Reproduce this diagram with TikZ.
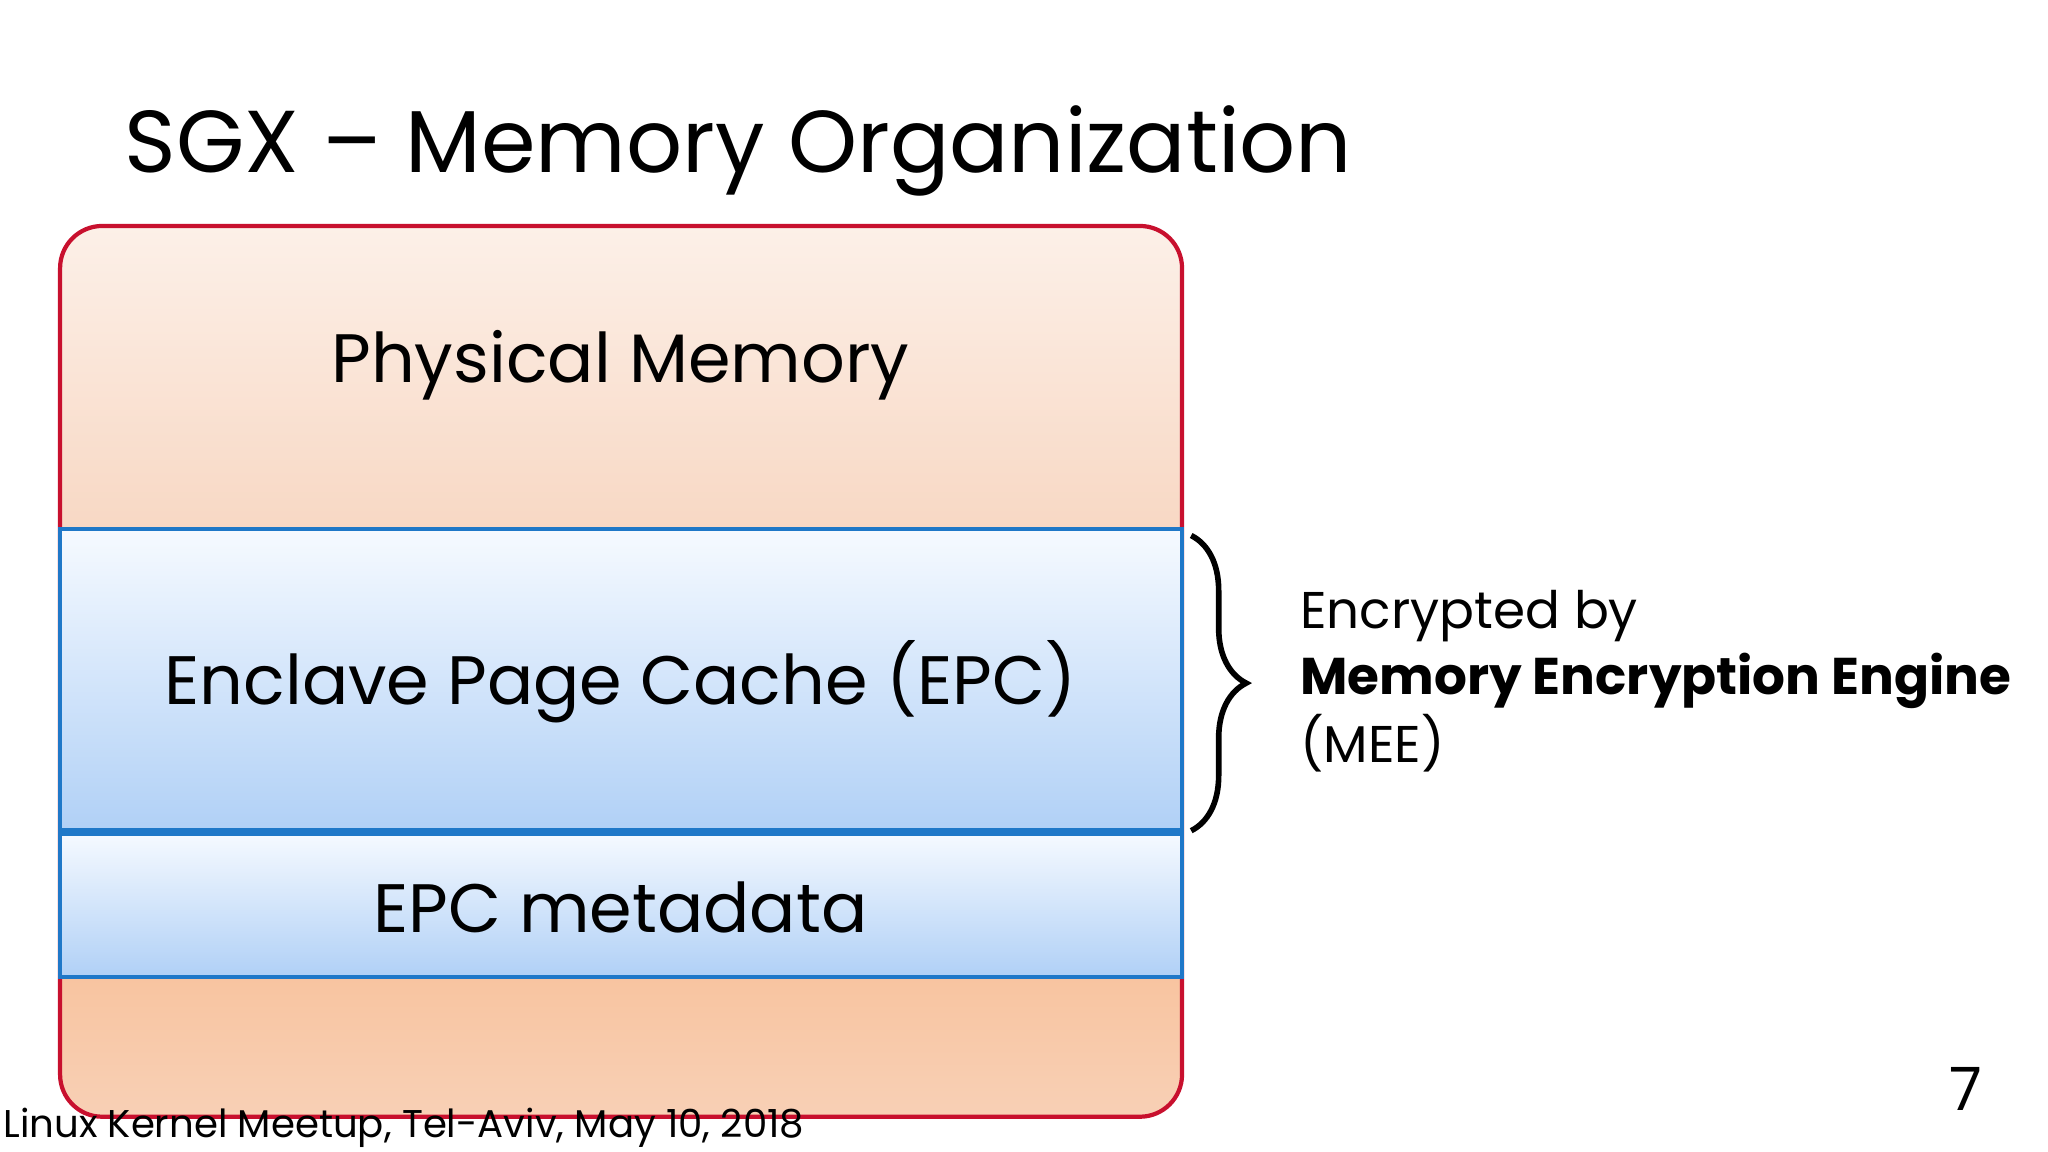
\documentclass[tikz,border=0pt]{standalone}
\usepackage{fontspec}
\setmainfont{Poppins}
\usetikzlibrary{decorations.pathreplacing}
\definecolor{redb}{HTML}{C8102E}
\definecolor{blueb}{HTML}{1F78C8}
\definecolor{peachT}{HTML}{FCF0E8}
\definecolor{peachB}{HTML}{F8D8C4}
\definecolor{peach2}{HTML}{F8C4A0}
\definecolor{blueT}{HTML}{F6FAFF}
\definecolor{blueB}{HTML}{B0D0F6}
\tikzset{
  lbl/.style={font=\fontsize{19.5}{24}\selectfont, text=black},
  side/.style={font=\fontsize{14.7}{18}\selectfont, anchor=west, inner sep=0},
  band/.style={draw=blueb, line width=1pt, top color=blueT, bottom color=blueB}
}
\begin{document}
\begin{tikzpicture}[x=0.013061cm,y=-0.013061cm]
\useasboundingbox (0,0) rectangle (1568,882);
\fill[white] (0,0) rectangle (1568,882);
\node[anchor=base west, inner sep=0, font=\fontsize{25}{30}\selectfont] (title) at (95,132) {SGX – Memory Organization};
\begin{scope}
\clip[rounded corners=12] (46,173) rectangle (905,855);
\shade[top color=peachT, bottom color=peachB] (46,173) rectangle (905,405);
\shade[top color=peach2, bottom color=peachB!60!peach2] (46,748) rectangle (905,855);
\end{scope}
\draw[redb, line width=1.2pt, rounded corners=12] (46,173) rectangle (905,855);
\draw[band] (46,405) rectangle (905,637);
\draw[band] (46,637) rectangle (905,748);
\draw[blueb, line width=2.5pt] (46,637) -- (905,637);
\node[lbl] (pm) at (475,280) {Physical Memory};
\node[lbl] (epc) at (475,522) {Enclave Page Cache (EPC)};
\node[lbl] (meta) at (475,695) {EPC metadata};
\coordinate (bt) at (912,410);
\coordinate (bb) at (912,636);
\draw[line width=1.6pt, decorate, decoration={brace, amplitude=0.55cm}] (bt) -- (bb);
\node[side, anchor=base west] (t1) at (995,481) {Encrypted by};
\node[side, anchor=base west, font=\fontsize{14.7}{18}\selectfont\bfseries] (t2) at (995,532) {Memory Encryption Engine};
\node[side, anchor=base west] (t3) at (995,584) {(MEE)};
\node[anchor=base, inner sep=0, font=\fontsize{17}{20}\selectfont] (pg) at (1505,850) {7};
\node[anchor=base west, inner sep=0, font=\fontsize{11}{13}\selectfont] (foot) at (2,871) {Linux Kernel Meetup, Tel-Aviv, May 10, 2018};
\end{tikzpicture}
\end{document}
